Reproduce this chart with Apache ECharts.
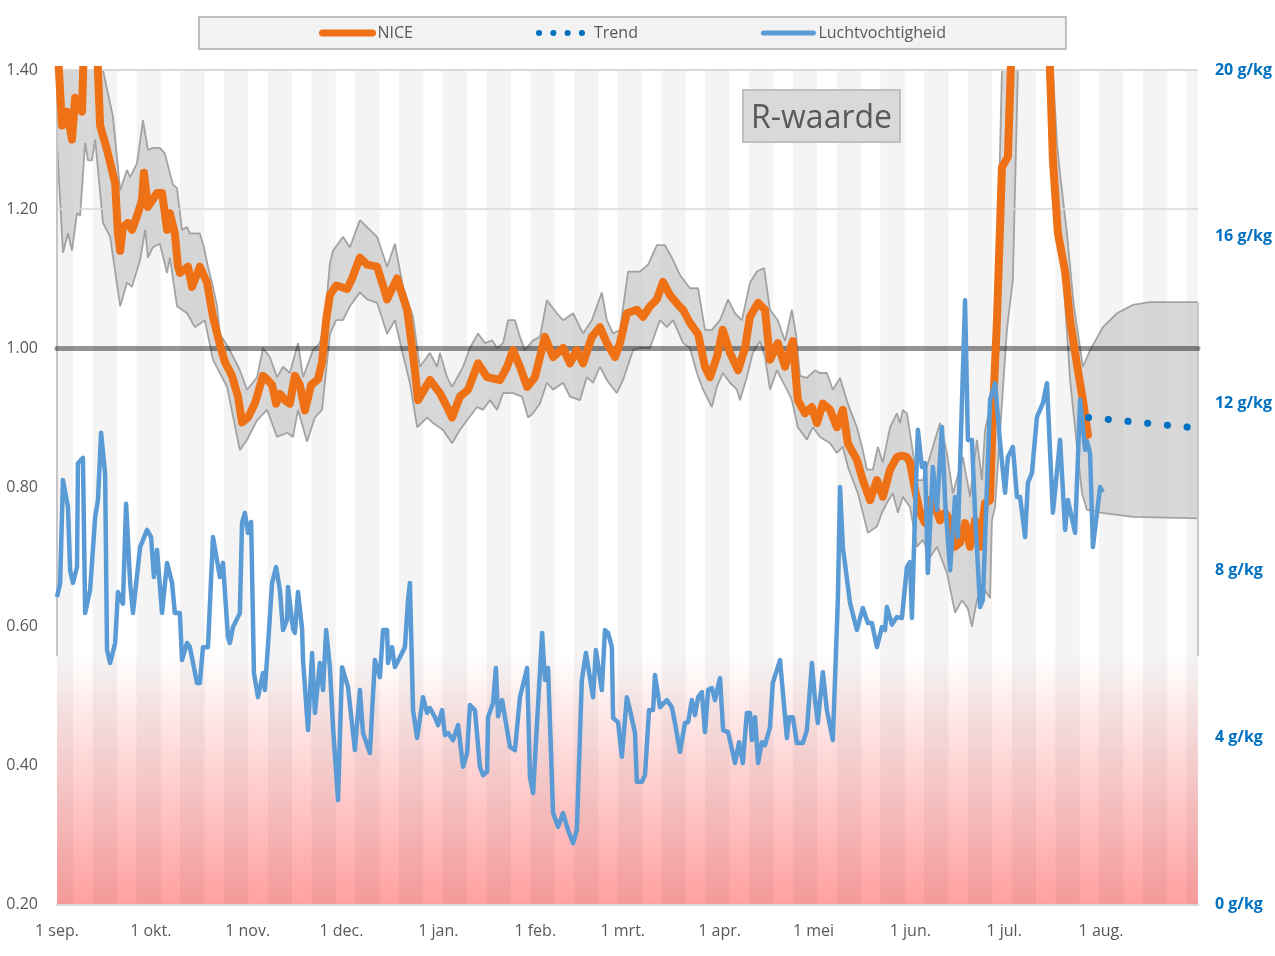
<!DOCTYPE html>
<html>
<head>
<meta charset="utf-8">
<script src="https://cdn.jsdelivr.net/npm/echarts@6/dist/echarts.min.js"></script>
<style>html,body{margin:0;padding:0;background:#fff}#c{width:1275px;height:956px}</style>
</head>
<body>
<div id="c"></div>
<script>
// ---- x axis (days since 1 sep) ----
const monthDays = [0,30,61,91,122,153,181,212,242,273,303,334];
const monthLabels = ['1 sep.','1 okt.','1 nov.','1 dec.','1 jan.','1 feb.','1 mrt.','1 apr.','1 mei','1 jun.','1 jul.','1 aug.'];

// ---- NICE R-value ----
const niceDay = [0,1.6,3.2,4.8,5.8,8,9,12.2,13.8,16,18.6,19.5,20.2,21.1,22.7,24,25.6,27.2,27.8,29.1,32,33.6,34.5,35.2,36.1,37.7,38.7,39.3,41.9,43.2,45.7,48,49.9,52.1,53.7,56,57.9,59.2,61.1,63.3,65.9,67.2,68.8,70.1,71.3,72.9,74.5,76.1,77.7,79.3,81.3,83.5,84.8,86.1,87.3,89.3,92.8,94.4,96.9,99.2,102.4,104.3,105.6,108.8,112,112.9,114.5,115.5,119.3,122.5,124.8,126.4,128.9,131.5,134.7,137.6,141.7,144,145.9,148.1,150.4,152.9,156.1,158.7,161.9,164.1,166.3,168.3,171.1,173.7,175.9,178.5,180.1,182.3,185.5,187.5,189.7,191.9,193.9,196.1,198.7,200.3,202.5,205.1,207.3,208.9,211.1,213,215.3,217.9,220.1,221.7,224.3,226.5,228.1,230.6,232.9,235.4,237,239.3,241.5,243.1,245,247.3,249.5,251.4,253,255.9,257.8,260.1,262.3,264.2,266.5,268.7,270.3,271.9,272.9,274.5,276.1,277.7,279.3,280.9,282.5,284.1,285.7,287.3,288.9,290.5,292.1,293.7,295.3,296.9,298.5,299.4,300.7,302.3,304.2,305.5,311.3,316.1,317.7,318.6,320.2,322.5,324.1,326.6,328.2,329.8];
const niceR = [1.45,1.32,1.34,1.30,1.36,1.34,1.5,1.5,1.32,1.285,1.237,1.165,1.14,1.174,1.18,1.17,1.19,1.213,1.252,1.203,1.223,1.223,1.194,1.17,1.194,1.165,1.117,1.108,1.117,1.088,1.117,1.094,1.045,1.005,0.98,0.96,0.93,0.893,0.90,0.92,0.96,0.955,0.947,0.92,0.934,0.925,0.92,0.96,0.947,0.91,0.947,0.955,0.98,1.04,1.076,1.09,1.085,1.10,1.13,1.12,1.117,1.09,1.07,1.10,1.055,1.025,0.968,0.925,0.954,0.935,0.915,0.90,0.93,0.94,0.978,0.958,0.954,0.973,0.997,0.973,0.944,0.958,1.016,0.987,1.0,0.978,0.997,0.978,1.016,1.03,1.007,0.987,1.007,1.05,1.055,1.045,1.06,1.07,1.095,1.076,1.062,1.055,1.036,1.02,0.973,0.958,0.987,1.026,0.993,0.968,1.0,1.045,1.065,1.055,0.983,1.007,0.973,1.01,0.925,0.906,0.915,0.892,0.92,0.911,0.886,0.911,0.863,0.839,0.81,0.781,0.81,0.786,0.825,0.843,0.845,0.843,0.835,0.796,0.763,0.748,0.781,0.771,0.752,0.763,0.752,0.714,0.72,0.748,0.714,0.752,0.714,0.777,0.781,0.906,1.04,1.26,1.275,1.45,1.8,1.6,1.40,1.27,1.165,1.11,1.04,0.968,0.925,0.875];

// ---- confidence band (incl. forecast) ----
const ciUpDay = [0,7.4,13.8,14.7,17.9,20.2,22.4,23.4,25.6,27.5,29.1,30.7,32.9,34.5,36.1,37.1,38.4,40,41.6,42.5,45.7,47,48.3,49.9,51.2,52.1,55.3,58.5,60.8,64,65.9,68.1,70.4,72.3,74.5,77.1,78.7,81.9,84.1,85.7,87.3,88.3,91.5,93.7,96.9,99.2,102.4,105.6,108.1,110.7,113.9,115.5,116.1,119.3,121.6,122.5,124.8,126.4,129.9,132.1,134.7,136.9,139.2,140.8,142.7,144.3,146.5,148.1,149.7,152.3,154.5,156.7,159.9,161.9,165.1,168.3,171.1,174.3,175.9,177.9,180.1,182.7,186.5,189.1,191.9,194.5,196.7,199.3,202.5,205.1,207.3,209.5,212.1,214.7,216.9,219.1,221.7,223.9,226.2,228.1,230.6,232.9,235.1,236.4,237.7,239.9,242.5,244.1,246.3,248.2,250.5,253,255.9,257.8,259.1,261,262.6,264.2,266.5,268.7,269.7,270.6,271.9,273.5,275.1,277,280.2,282.5,284.7,286.6,289.8,292.1,294.3,295.9,296.9,298.5,300.1,300.7,302.3,303.6,314.5,318.6,319.9,320.9,323.1,325.3,327.3,328.2,330.5,334.6,339.1,344.2,349.6,365];
const ciUpVal = [1.55,1.6,1.45,1.40,1.333,1.227,1.256,1.246,1.266,1.328,1.285,1.288,1.288,1.28,1.252,1.235,1.23,1.17,1.174,1.165,1.165,1.145,1.117,1.088,1.06,1.02,0.997,0.968,0.94,0.958,1.0,0.987,0.958,0.973,0.964,1.007,0.958,0.997,1.007,1.04,1.122,1.14,1.16,1.145,1.184,1.174,1.16,1.117,1.15,1.088,1.045,0.99,0.973,0.993,0.973,0.993,0.958,0.944,0.973,1.0,1.021,1.007,1.011,1.0,1.007,1.04,1.04,1.016,0.997,1.011,1.016,1.069,1.05,1.04,1.05,1.021,1.04,1.08,1.04,1.021,1.026,1.11,1.11,1.12,1.148,1.148,1.13,1.105,1.086,1.086,1.026,1.026,1.04,1.07,1.05,1.04,1.094,1.11,1.115,1.055,1.04,1.01,1.055,1.02,0.96,0.957,0.968,0.964,0.964,0.94,0.957,0.92,0.886,0.853,0.825,0.825,0.858,0.835,0.886,0.906,0.892,0.911,0.906,0.86,0.81,0.81,0.858,0.892,0.849,0.791,0.843,0.786,0.868,0.81,0.882,0.915,1.016,1.098,1.40,1.6,1.8,1.40,1.295,1.25,1.165,1.06,1.0,0.973,0.997,1.03,1.05,1.062,1.066,1.066];
const ciLoDay = [0,1.9,3.5,4.8,6.4,7.4,9,9.9,11.2,12.2,14.7,17,20.2,22.4,24,26.6,28.2,29.1,30.7,32.9,35.2,36.1,38.4,41.6,44.1,47.3,49.9,54.4,58.5,60.8,64,67.2,70.4,73.6,75.5,77.1,80,82.5,84.8,87.3,89.3,91.5,93.7,96.9,99.2,102.4,105.6,108.1,110.7,112.9,115.2,118.4,120.3,123.5,126.4,128.9,131.2,134.4,136.3,138.5,140.8,142.7,145.9,148.8,150.7,152.3,154.5,156.7,158.7,161.9,164.1,167.3,169.5,171.5,173.7,175.9,179.1,181.1,184.3,186.5,189.7,192.9,195.1,197.1,200.3,202.5,204.7,206.7,209.5,211.1,213,215.3,217.5,218.5,220.7,222.6,224.9,226.5,228.1,230.3,233.5,235.1,237,239.9,241.8,244.1,247.3,249.5,251.4,253,256.2,257.8,259.4,262.3,263.9,265.5,267.4,269,270.6,272.9,275.1,277,279.3,281.5,284.7,287.3,289.5,291.4,292.7,294.3,295.9,297.5,298.5,299.1,300.1,301.7,303.9,305.8,307.4,308.7,314.5,316.7,317.7,319.3,321.7,324.1,326.3,327.9,329.5,333.7,344.2,365];
const ciLoVal = [1.295,1.137,1.165,1.14,1.194,1.19,1.295,1.27,1.27,1.30,1.18,1.16,1.06,1.094,1.088,1.127,1.17,1.13,1.145,1.15,1.108,1.13,1.06,1.05,1.03,1.04,0.983,0.944,0.853,0.868,0.896,0.911,0.872,0.878,0.872,0.911,0.865,0.90,0.911,1.02,1.04,1.04,1.06,1.08,1.07,1.065,1.02,1.04,0.99,0.95,0.886,0.90,0.892,0.882,0.863,0.882,0.896,0.915,0.911,0.925,0.911,0.935,0.935,0.93,0.90,0.906,0.92,0.95,0.94,0.95,0.93,0.925,0.958,0.95,0.973,0.954,0.935,0.954,0.997,1.0,1.0,1.04,1.03,1.04,1.007,1.0,0.964,0.94,0.915,0.944,0.964,0.95,0.94,0.925,0.958,0.993,1.01,0.987,0.94,0.968,0.94,0.925,0.886,0.868,0.886,0.872,0.863,0.849,0.858,0.829,0.791,0.763,0.734,0.743,0.763,0.777,0.791,0.763,0.786,0.771,0.714,0.724,0.699,0.714,0.676,0.619,0.637,0.625,0.599,0.637,0.656,0.647,0.64,0.752,0.771,0.88,1.026,1.098,1.40,1.6,1.6,1.40,1.31,1.213,1.117,0.954,0.858,0.791,0.767,0.763,0.757,0.755];

// ---- trend ----
const trendDay = [330,346,362];
const trendVal = [0.900,0.893,0.886];

// ---- humidity (g/kg) ----
const humDay = [0,1,1.9,3.5,4.2,5.1,6.4,6.7,8.3,9,10.6,12.2,13.1,14.1,15.4,16,17,18.6,19.5,21.1,22.1,23.4,24.3,26.6,28.8,30.1,31,32,33.6,35.2,36.8,37.7,39.3,40,41.6,42.5,44.8,45.7,46.7,48.3,49.9,52.1,53.1,54.7,55.3,56.3,58.5,59.2,60.1,61.1,62.1,63,64.3,65.9,66.5,67.5,68.8,70.1,71.3,72.3,73.6,73.9,75.5,76.1,77.1,78.4,78.7,80.3,81.6,82.5,84.1,85.1,86.1,87.3,88.3,89.9,91.2,93.1,95.3,96.9,97.9,100.1,101.7,103.3,104.3,105.6,105.9,107.2,108.1,111.3,112.3,112.9,113.9,115.2,117.1,118.4,119.3,120.9,121.9,123.2,124.1,125.1,126.7,128.3,129.9,131.2,132.1,133.7,135.3,136.3,137.6,137.9,139.5,140.4,141.1,142.4,144.9,146.5,148.1,150.4,151.3,152.3,155.2,156.1,157.1,158.7,160.3,161.9,163.5,165.1,166.3,167.9,169.2,171.5,172.4,174.3,175.3,176.3,177.5,177.9,179.5,180.7,182.3,183.3,184.9,185.5,187.1,188.1,189.4,190.7,191.3,192.9,195.1,196.7,197.7,199.3,200.9,201.9,203.1,204.1,205.1,206.3,207.3,208.3,209.5,210.5,212.1,213.1,214.7,216.9,218.2,219.4,220.7,221.7,222.3,223.3,224.3,225.5,226.5,228.1,229,231.3,233.5,234.2,235.4,236.7,238.6,239.9,241.5,242.5,243.4,245,246.3,248.2,249.8,250.5,251.4,253.7,255.9,257.8,259.4,260.7,262.3,263.9,264.9,265.5,267.1,268.7,270.3,271.9,272.9,273.5,274.5,275.4,276.7,277.7,278.6,280.2,281.5,283.1,284.1,285.7,287.3,288.2,290.5,291.4,292.7,293.7,295.3,296.2,298.5,300.1,301.7,303.3,304.2,305.8,307.1,308.1,309.7,310.6,311.9,313.5,315.4,316.7,318.6,320.9,322.5,323.4,325.7,327.3,328.9,329.5,330.5,331.4,333.7,334.6];
const humVal = [7.36,7.7,10.17,9.52,8.0,7.7,8.08,10.57,10.7,6.98,7.53,9.28,9.69,11.3,10.3,6.09,5.78,6.26,7.48,7.2,9.6,7.7,6.98,8.56,8.97,8.8,7.84,8.49,6.98,8.18,7.7,6.98,6.98,5.85,6.26,6.16,5.3,5.3,6.16,6.16,8.8,7.84,8.18,6.4,6.26,6.64,6.98,9.14,9.38,8.9,9.16,5.54,4.96,5.54,5.13,6.2,7.7,8.08,7.53,6.57,6.81,7.6,6.6,6.5,7.48,6.6,5.85,4.17,6.02,4.58,5.78,5.13,6.57,5.68,4.24,2.49,5.68,5.2,3.69,5.13,4.1,3.62,5.85,5.44,6.57,6.57,5.78,6.16,5.68,6.16,7.29,7.7,4.65,3.98,4.96,4.58,4.7,4.48,4.29,4.65,4.05,4.1,3.93,4.29,3.29,3.62,4.77,4.65,3.29,3.09,3.17,4.48,4.82,5.66,4.5,4.89,3.77,3.69,4.96,5.66,3.05,2.66,6.5,5.37,5.66,2.18,1.85,2.18,1.77,1.46,1.77,5.37,6.02,4.96,6.09,5.13,6.57,6.5,6.16,4.46,4.36,3.53,4.96,4.65,4.1,2.93,2.93,3.09,4.65,4.65,5.49,4.72,4.89,4.72,4.34,3.65,4.34,4.36,4.89,4.53,4.96,5.08,4.12,5.13,5.18,4.89,5.42,4.17,4.12,3.38,3.88,3.38,4.58,4.58,3.93,4.48,3.38,3.88,3.81,4.24,5.3,5.85,3.98,4.48,4.48,3.86,3.86,4.17,5.78,4.89,4.34,5.56,4.65,3.93,7.29,10.0,8.56,7.22,6.57,7.1,6.74,6.74,6.16,6.64,6.57,7.12,6.7,6.88,6.86,8.08,8.2,6.86,9.38,11.37,10.48,10.57,7.94,10.48,9.45,11.44,9.69,8.0,9.76,8.8,14.48,11.13,11.13,9.38,7.12,7.29,12.09,12.49,11.06,9.86,10.72,10.96,9.76,9.76,8.8,10.1,10.34,11.68,12.01,12.49,9.38,11.13,8.97,9.69,8.9,12.09,10.89,11.1,10.8,8.56,10.0,9.88];

const zip = (a, b) => a.map((d, i) => [d, b[i]]);
const FONT = "'Open Sans', 'Noto Sans', sans-serif";

// alternating background columns (two-week rhythm)
const stripeData = [];
for (let k = 0; 14 * k - 2.6 < 365; k++) {
  stripeData.push([{ xAxis: Math.max(0, 14 * k - 2.6) }, { xAxis: Math.min(365, 14 * k + 5.2) }]);
}

const chart = echarts.init(document.getElementById('c'), null, { renderer: 'canvas' });
chart.setOption({
  animation: false,
  textStyle: { fontFamily: FONT },
  title: {
    text: 'R-waarde', left: 743, top: 90,
    backgroundColor: '#d9d9d9', borderColor: '#bfbfbf', borderWidth: 2,
    padding: [9, 8, 3, 8],
    textStyle: { fontSize: 32, fontWeight: 'normal', color: '#595959', fontFamily: FONT, lineHeight: 40 }
  },
  legend: {
    left: 199, top: 17,
    padding: [8, 120, 8, 120],
    itemWidth: 50, itemHeight: 14, itemGap: 123,
    backgroundColor: '#f2f2f2', borderColor: '#bfbfbf', borderWidth: 2, borderRadius: 0,
    textStyle: { fontSize: 16, color: '#595959', fontFamily: FONT },
    itemStyle: { opacity: 0 },
    selectedMode: false,
    data: [
      { name: 'NICE', lineStyle: { width: 7, cap: 'round' }, itemStyle: { opacity: 0 } },
      { name: 'Trend', lineStyle: { width: 6, type: [0.1, 14.2], cap: 'round' }, itemStyle: { opacity: 0 } },
      { name: 'Luchtvochtigheid', lineStyle: { width: 5, cap: 'round' }, itemStyle: { opacity: 0 } }
    ]
  },
  grid: { left: 57, right: 77, top: 70, bottom: 52, containLabel: false },
  xAxis: {
    type: 'value', min: 0, max: 365,
    splitLine: { show: false },
    axisTick: { show: false },
    axisLine: { show: true, lineStyle: { color: '#d9d9d9', width: 3 } },
    axisLabel: {
      customValues: monthDays,
      formatter: (v) => monthLabels[monthDays.indexOf(v)],
      color: '#595959', fontSize: 16, margin: 19, fontFamily: FONT
    }
  },
  yAxis: [
    {
      type: 'value', min: 0.2, max: 1.4, interval: 0.2,
      splitLine: { show: false }, axisLine: { show: false }, axisTick: { show: false },
      axisLabel: { formatter: (v) => v.toFixed(2), color: '#595959', fontSize: 16, margin: 19, fontFamily: FONT }
    },
    {
      type: 'value', min: 0, max: 20, interval: 4, position: 'right',
      splitLine: { show: false }, axisLine: { show: false }, axisTick: { show: false },
      axisLabel: { formatter: '{value} g/kg', color: '#0070c0', fontWeight: 'bold', fontSize: 16, margin: 17, fontFamily: FONT }
    }
  ],
  series: [
    {
      name: 'bgPink', type: 'line', data: [], z: 0, silent: true,
      markArea: {
        silent: true,
        data: [[{ xAxis: 0, yAxis: 0.2 }, { xAxis: 365, yAxis: 0.56 }]],
        itemStyle: {
          color: { type: 'linear', x: 0, y: 0, x2: 0, y2: 1, colorStops: [
            { offset: 0, color: 'rgba(255,160,160,0)' },
            { offset: 1, color: 'rgba(255,160,160,1)' }
          ] }
        }
      }
    },
    {
      name: 'bgStripes', type: 'line', data: [], z: 1, silent: true,
      markArea: { silent: true, data: stripeData, itemStyle: { color: 'rgba(0,0,0,0.045)' } }
    },
    {
      name: 'grid', type: 'line', data: [], z: 2, silent: true,
      markLine: {
        silent: true, symbol: ['none', 'none'], label: { show: false },
        data: [
          { yAxis: 1.2, lineStyle: { color: '#d9d9d9', width: 1.5, type: 'solid' } },
          { yAxis: 1.4, lineStyle: { color: '#d9d9d9', width: 2, type: 'solid' } },
          [{ coord: [0, 0.557], lineStyle: { color: '#c6c6c6', width: 2, type: 'solid' } }, { coord: [0, 1.4] }],
          [{ coord: [365, 0.557], lineStyle: { color: '#c6c6c6', width: 2, type: 'solid' } }, { coord: [365, 1.066] }]
        ]
      }
    },
    {
      name: 'band', type: 'custom', z: 3, silent: true, clip: true,
      data: [[0, 1]], encode: { x: 0, y: 1 },
      renderItem: function (params, api) {
        const pts = [];
        for (let i = 0; i < ciUpDay.length; i++) pts.push(api.coord([ciUpDay[i], ciUpVal[i]]));
        for (let i = ciLoDay.length - 1; i >= 0; i--) pts.push(api.coord([ciLoDay[i], ciLoVal[i]]));
        return { type: 'polygon', shape: { points: pts }, style: { fill: 'rgba(200,200,200,0.7)' } };
      }
    },
    {
      name: 'ciUpper', type: 'line', z: 4, silent: true, symbol: 'none',
      data: zip(ciUpDay, ciUpVal),
      lineStyle: { color: 'rgba(150,150,150,0.85)', width: 1.8 }
    },
    {
      name: 'ciLower', type: 'line', z: 4, silent: true, symbol: 'none',
      data: zip(ciLoDay, ciLoVal),
      lineStyle: { color: 'rgba(150,150,150,0.85)', width: 1.8 }
    },
    {
      name: 'NICE', type: 'line', z: 5, symbol: 'none',
      data: zip(niceDay, niceR),
      itemStyle: { color: '#ef7116' },
      lineStyle: { color: '#ef7116', width: 8, cap: 'round', join: 'round' }
    },
    {
      name: 'one', type: 'line', data: [], z: 6, silent: true,
      markLine: {
        silent: true, symbol: ['none', 'none'], label: { show: false },
        data: [{ yAxis: 1.0 }],
        lineStyle: { color: 'rgba(0,0,0,0.42)', width: 5, type: 'solid', cap: 'round' }
      }
    },
    {
      name: 'Luchtvochtigheid', type: 'line', yAxisIndex: 1, z: 7, symbol: 'none',
      data: zip(humDay, humVal),
      itemStyle: { color: '#5b9bd5' },
      lineStyle: { color: '#5b9bd5', width: 4.5, join: 'round' }
    },
    {
      name: 'Trend', type: 'line', z: 8, symbol: 'none',
      data: zip(trendDay, trendVal),
      itemStyle: { color: '#0070c0' },
      lineStyle: { color: '#0070c0', width: 7, type: [0.1, 19.7], cap: 'round' }
    }
  ]
});
</script>
</body>
</html>
